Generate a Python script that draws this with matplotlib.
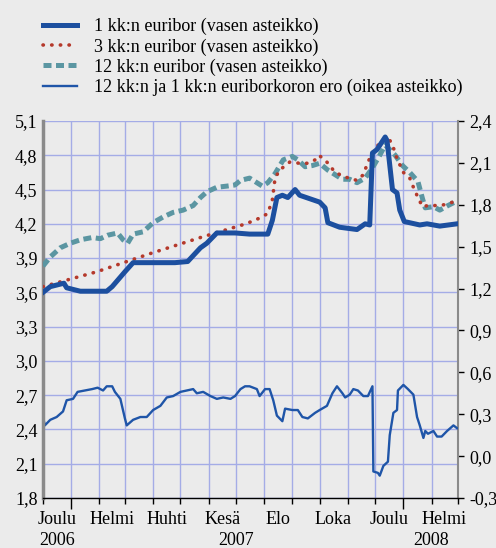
import matplotlib
matplotlib.use("Agg")
import matplotlib.pyplot as plt
import matplotlib.dates as mdates
from matplotlib.ticker import FixedLocator, FuncFormatter
import numpy as np
import pandas as pd

# ------------------ Data ------------------
pv_1kk = ["2006-12-01", "2006-12-09", "2006-12-24", "2006-12-27", "2007-01-11", "2007-02-09",
          "2007-02-15", "2007-03-01", "2007-03-10", "2007-03-29", "2007-04-25", "2007-05-09",
          "2007-05-23", "2007-05-30", "2007-06-10", "2007-06-30", "2007-07-16", "2007-08-05",
          "2007-08-10", "2007-08-15", "2007-08-21", "2007-08-27", "2007-09-04", "2007-09-09",
          "2007-09-20", "2007-10-01", "2007-10-07", "2007-10-10", "2007-10-23", "2007-11-11",
          "2007-11-20", "2007-11-25", "2007-11-28", "2007-12-03", "2007-12-12", "2007-12-14",
          "2007-12-20", "2007-12-25", "2007-12-28", "2008-01-02", "2008-01-19", "2008-01-27",
          "2008-02-10", "2008-02-29"]
euribor_1kk = [3.60, 3.65, 3.68, 3.64, 3.61, 3.61,
               3.65, 3.78, 3.86, 3.86, 3.86, 3.87,
               3.99, 4.03, 4.12, 4.12, 4.11, 4.11,
               4.23, 4.43, 4.45, 4.43, 4.50, 4.45,
               4.42, 4.39, 4.34, 4.21, 4.17, 4.15,
               4.20, 4.19, 4.82, 4.85, 4.96, 4.93,
               4.50, 4.47, 4.32, 4.22, 4.19, 4.20,
               4.18, 4.20]

pv_3kk = ["2006-12-01", "2007-01-29", "2007-03-29", "2007-05-23", "2007-07-12", "2007-07-27",
          "2007-08-05", "2007-08-10", "2007-08-13", "2007-08-18", "2007-08-29", "2007-09-09",
          "2007-09-18", "2007-09-26", "2007-09-30", "2007-10-07", "2007-10-18", "2007-10-29",
          "2007-11-11", "2007-11-18", "2007-11-23", "2007-11-28", "2007-12-03", "2007-12-10",
          "2007-12-15", "2007-12-20", "2007-12-25", "2008-01-01", "2008-01-08", "2008-01-12",
          "2008-01-17", "2008-01-22", "2008-01-28", "2008-02-08", "2008-02-18", "2008-02-27"]
euribor_3kk = [3.65, 3.78, 3.94, 4.08, 4.20, 4.25,
               4.29, 4.41, 4.60, 4.67, 4.74, 4.73,
               4.73, 4.76, 4.80, 4.76, 4.65, 4.61,
               4.58, 4.63, 4.74, 4.82, 4.88, 4.93,
               4.96, 4.89, 4.77, 4.65, 4.60, 4.52,
               4.43, 4.35, 4.36, 4.36, 4.37, 4.40]

pv_12kk = ["2006-12-01", "2006-12-09", "2006-12-20", "2006-12-31", "2007-01-11", "2007-01-24",
           "2007-02-02", "2007-02-10", "2007-02-21", "2007-02-27", "2007-03-04", "2007-03-10",
           "2007-03-21", "2007-04-01", "2007-04-12", "2007-04-23", "2007-05-04", "2007-05-15",
           "2007-05-23", "2007-05-30", "2007-06-10", "2007-06-21", "2007-06-30", "2007-07-06",
           "2007-07-16", "2007-07-22", "2007-07-30", "2007-08-05", "2007-08-13", "2007-08-22",
           "2007-09-01", "2007-09-07", "2007-09-15", "2007-09-23", "2007-10-01", "2007-10-10",
           "2007-10-18", "2007-10-26", "2007-11-03", "2007-11-11", "2007-11-20", "2007-11-28",
           "2007-12-06", "2007-12-12", "2007-12-17", "2007-12-23", "2007-12-31", "2008-01-08",
           "2008-01-17", "2008-01-22", "2008-01-25", "2008-02-03", "2008-02-10", "2008-02-19",
           "2008-02-29"]
euribor_12kk = [3.83, 3.91, 3.99, 4.03, 4.06, 4.08,
                4.07, 4.10, 4.12, 4.06, 4.03, 4.11,
                4.13, 4.21, 4.26, 4.30, 4.32, 4.36,
                4.43, 4.48, 4.52, 4.53, 4.54, 4.58,
                4.60, 4.57, 4.53, 4.56, 4.64, 4.76,
                4.79, 4.76, 4.70, 4.71, 4.73, 4.67,
                4.63, 4.59, 4.59, 4.56, 4.60, 4.69,
                4.80, 4.89, 4.85, 4.80, 4.71, 4.65,
                4.57, 4.42, 4.34, 4.35, 4.32, 4.36,
                4.40]

pv_ero = ["2006-12-01", "2006-12-03", "2006-12-09", "2006-12-16", "2006-12-23", "2006-12-27",
          "2007-01-03", "2007-01-08", "2007-01-16", "2007-01-24", "2007-01-30", "2007-02-05",
          "2007-02-09", "2007-02-15", "2007-02-18", "2007-02-24", "2007-03-01", "2007-03-03",
          "2007-03-10", "2007-03-18", "2007-03-25", "2007-04-01", "2007-04-09", "2007-04-16",
          "2007-04-23", "2007-05-01", "2007-05-08", "2007-05-15", "2007-05-19", "2007-05-26",
          "2007-06-03", "2007-06-10", "2007-06-17", "2007-06-25", "2007-06-30", "2007-07-06",
          "2007-07-11", "2007-07-16", "2007-07-24", "2007-07-27", "2007-08-02", "2007-08-07",
          "2007-08-11", "2007-08-15", "2007-08-21", "2007-08-24", "2007-09-01", "2007-09-07",
          "2007-09-12", "2007-09-18", "2007-09-26", "2007-10-01", "2007-10-09", "2007-10-15",
          "2007-10-20", "2007-10-26", "2007-10-29", "2007-11-03", "2007-11-07", "2007-11-12",
          "2007-11-18", "2007-11-23", "2007-11-28", "2007-11-29", "2007-12-04", "2007-12-06",
          "2007-12-10", "2007-12-15", "2007-12-17", "2007-12-21", "2007-12-25", "2007-12-26",
          "2008-01-01", "2008-01-06", "2008-01-12", "2008-01-16", "2008-01-19", "2008-01-23",
          "2008-01-25", "2008-01-28", "2008-02-03", "2008-02-07", "2008-02-12", "2008-02-18",
          "2008-02-25", "2008-02-29"]
ero_12_1 = [0.28, 0.22, 0.26, 0.28, 0.32, 0.40,
            0.41, 0.46, 0.47, 0.48, 0.49, 0.47,
            0.50, 0.50, 0.46, 0.41, 0.27, 0.22,
            0.26, 0.28, 0.28, 0.33, 0.36, 0.42,
            0.43, 0.46, 0.47, 0.48, 0.45, 0.46,
            0.43, 0.41, 0.42, 0.41, 0.43, 0.48,
            0.50, 0.50, 0.48, 0.43, 0.48, 0.48,
            0.40, 0.29, 0.25, 0.34, 0.33, 0.33,
            0.28, 0.27, 0.31, 0.33, 0.36, 0.45,
            0.50, 0.45, 0.42, 0.44, 0.48, 0.47,
            0.43, 0.43, 0.50, -0.11, -0.12, -0.14,
            -0.07, -0.04, 0.15, 0.31, 0.33, 0.47,
            0.51, 0.48, 0.44, 0.28, 0.22, 0.13,
            0.18, 0.16, 0.18, 0.14, 0.14, 0.18,
            0.22, 0.20]

legend_labels = ["1 kk:n euribor (vasen asteikko)",
                 "3 kk:n euribor (vasen asteikko)",
                 "12 kk:n euribor (vasen asteikko)",
                 "12 kk:n ja 1 kk:n euriborkoron ero (oikea asteikko)"]
month_labels = ["Joulu", "Helmi", "Huhti", "Kesä", "Elo", "Loka", "Joulu", "Helmi"]
month_label_pos = ["2006-12-16", "2007-02-15", "2007-04-16", "2007-06-16",
                   "2007-08-16", "2007-10-16", "2007-12-16", "2008-02-15"]
year_labels = ["2006", "2007", "2008"]
year_label_pos = ["2006-12-16", "2007-07-01", "2008-01-31"]

# ------------------ Figure ------------------
plt.rcParams['font.family'] = ['Liberation Serif', 'DejaVu Serif']
bg = '#ebebeb'
grid_c = '#a4ace6'
fs = 13

fig = plt.figure(figsize=(4.96, 5.48), dpi=100, facecolor=bg)
ax = fig.add_axes([43/496, 1 - 498/548, 415/496, 377/548], facecolor=bg)
ax2 = ax.twinx()

d1 = pd.to_datetime(pv_1kk)
d3 = pd.to_datetime(pv_3kk)
d12 = pd.to_datetime(pv_12kk)
de = pd.to_datetime(pv_ero)

le, = ax2.plot(de, ero_12_1, color='#1f55a8', lw=1.7, zorder=3)
l3, = ax.plot(d3, euribor_3kk, color='#b5392b', lw=2.6, linestyle=(0, (0.1, 2.3)),
              dash_capstyle='round', zorder=4)
l12, = ax.plot(d12, euribor_12kk, color='#5b96a2', lw=3.6, linestyle=(0, (1.6, 0.9)), zorder=3)
l1, = ax.plot(d1, euribor_1kk, color='#1c4f9f', lw=3.6, zorder=5)
ax.set_zorder(ax2.get_zorder() + 1)
ax.patch.set_visible(False)
ax2.patch.set_visible(True)
ax2.patch.set_facecolor(bg)

# akselien rajat
x0, x1 = pd.Timestamp("2006-12-01"), pd.Timestamp("2008-03-01")
ax.set_xlim(x0, x1)
ax.set_ylim(1.8, 5.1)
ax2.set_ylim(-0.3, 2.4)

comma = FuncFormatter(lambda v, p: f"{v:.1f}".replace(".", ","))
ax.yaxis.set_major_locator(FixedLocator(np.round(np.arange(1.8, 5.11, 0.3), 2)))
ax2.yaxis.set_major_locator(FixedLocator(np.round(np.arange(-0.3, 2.41, 0.3), 2)))
ax.yaxis.set_major_formatter(comma)
ax2.yaxis.set_major_formatter(comma)
ax.tick_params(axis='y', length=0, labelsize=fs, pad=4)
ax2.tick_params(axis='y', length=4, width=1, direction='out', labelsize=fs, pad=4)

# ruudukko taka-akselille, jotta se jää viivojen alle
for v in np.arange(1.8, 5.11, 0.3):
    ax2.axhline(-0.3 + (v - 1.8) / 3.3 * 2.7, color=grid_c, lw=1, zorder=1)
months = pd.date_range("2007-01-01", "2008-02-01", freq="MS")
for m in months:
    ax2.axvline(m, color=grid_c, lw=1, zorder=1)

# x-akselin merkit: kuukaudet, vuodenvaihteessa pidempi
ax.xaxis.set_major_locator(mdates.YearLocator())
ax.xaxis.set_minor_locator(mdates.MonthLocator())
ax.tick_params(axis='x', which='major', length=8, width=1, labelbottom=False)
ax.tick_params(axis='x', which='minor', length=4, width=1)
ax2.tick_params(axis='x', which='both', length=0, labelbottom=False)

for lab, pos in zip(month_labels, month_label_pos):
    ax.text(pd.Timestamp(pos), -0.035, lab, transform=ax.get_xaxis_transform(),
            ha='center', va='top', fontsize=fs)
for lab, pos in zip(year_labels, year_label_pos):
    ax.text(pd.Timestamp(pos), -0.09, lab, transform=ax.get_xaxis_transform(),
            ha='center', va='top', fontsize=fs)

for a in (ax, ax2):
    a.spines['top'].set_visible(False)
ax.spines['left'].set_color('#8a8a8a')
ax.spines['left'].set_linewidth(2.5)
ax.spines['right'].set_visible(False)
ax2.spines['left'].set_visible(False)
ax2.spines['right'].set_color('#8a8a8a')
ax2.spines['right'].set_linewidth(1.5)
ax.spines['bottom'].set_linewidth(1)
ax2.spines['bottom'].set_visible(False)

# selite
fig.legend([l1, l3, l12, le], legend_labels, loc='upper left',
           bbox_to_anchor=(34/496, 1 - 9/548), frameon=False, fontsize=fs,
           handlelength=1.9, handletextpad=0.9, labelspacing=0.16, borderpad=0)

fig.savefig("out.png", dpi=100, facecolor=bg)
